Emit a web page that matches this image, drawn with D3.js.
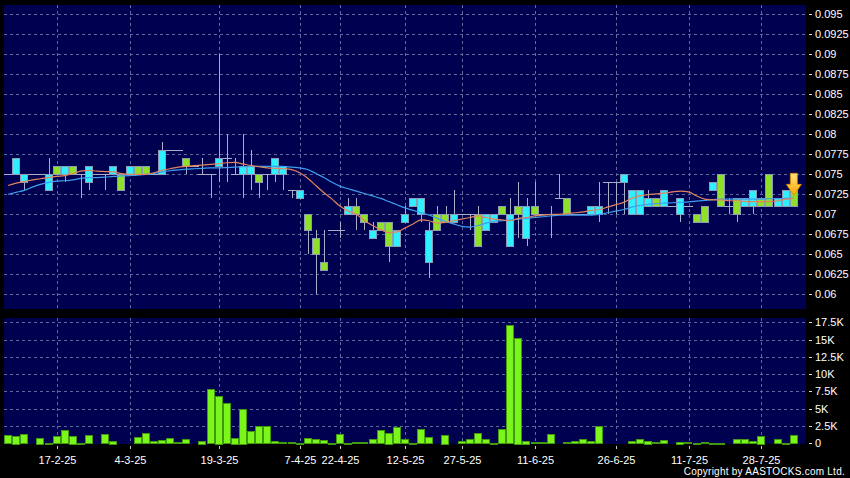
<!DOCTYPE html>
<html><head><meta charset="utf-8">
<script src="https://cdn.jsdelivr.net/npm/d3@7"></script>
<style>html,body{margin:0;padding:0;background:#000;}svg{display:block;}</style>
</head><body>
<svg id="c" width="850" height="478"></svg>
<script>
// ---- data (prices in HKD, volumes in thousands) ----
const openP  = [75,75,74,75,75,73,76,75,76,75,74,75,75,75,75,75,76,76,75,75,78,78,77,76,75,75,76,77,75,75,75,75,75,75,75,73,72,70,67,64,68,68,70,71,70,67,69,69,66,69,71,70,64,70,70,69,70,70,70,68,69,71,66,71,67,71,70,70,72,72,70,70,70,70,74,74,74,70,70,71,72,71,71,70,71,70,71,73,75,71,72,71,71,72,75,71,71,73].map(v=>v/1000);
const highP  = [75,77,75,75,75,77,76,76,76,75,76,75,75,76,75,76,76,76,75,79,78,78,77,76,77,75,90,80,77,80,78,75,75,77,76,73,73,70,68,68,68,69,72,72,70,69,69,69,68,71,72,72,69,71,71,73,70,70,71,70,70,71,72,74,72,74,70,71,75,72,70,70,71,74,74,74,75,73,73,73,72,73,71,72,71,70,71,74,75,72,72,72,73,72,75,72,73,73].map(v=>v/1000);
const lowP   = [75,75,73,75,75,73,75,74,75,72,73,75,73,75,73,75,75,75,75,75,78,78,75,76,75,72,74,74,75,72,73,72,73,74,73,72,72,65,60,63,68,67,70,68,68,67,68,64,66,69,71,69,62,68,69,69,70,68,66,68,69,70,66,67,66,70,70,67,72,70,70,70,70,69,70,70,70,70,70,71,71,71,71,69,71,69,69,73,71,70,69,71,70,71,71,71,71,71].map(v=>v/1000);
const closeP = [75,77,75,75,75,75,75,76,75,75,76,75,75,76,73,76,75,75,75,78,78,78,76,76,75,75,77,77,75,76,76,74,75,77,76,73,73,68,65,63,68,68,71,70,69,68,68,66,68,70,72,72,68,68,69,70,70,70,66,70,70,70,70,70,71,70,70,70,72,70,70,70,71,71,74,74,75,73,73,72,71,73,71,72,71,69,69,74,71,71,70,72,73,71,71,72,73,71].map(v=>v/1000);
const volumeK = [1.2,1.1,1.3,0,0.8,0.05,1.05,1.9,1.1,0.1,1.15,0,1.35,0.4,0,0,0.85,1.5,0.3,0.5,0.7,0.2,0.6,0,0.4,7.85,6.9,5.8,0.8,5.0,1.8,2.5,2.45,0.3,0.2,0.2,0.05,0.75,0.6,0.5,0.05,1.35,0.1,0.2,0.2,0.6,1.9,1.55,2.35,0.6,0.05,2.05,0.85,0,1.25,0,0.3,0.6,1.5,0.55,0.05,2.05,17.1,15.3,0.4,0.2,0.2,1.35,0,0.2,0.3,0.55,0.3,2.45,0,0,0,0.35,0.6,0.4,0.2,0.5,0,0.25,0.15,0.05,0.2,0.1,0.05,0,0.6,0.6,0.35,1.1,0,0.6,0.05,1.2];
const maShort = [73.6,73.9,74.1,74.3,74.45,74.6,74.75,74.85,75.1,75.4,75.5,75.4,75.35,75.3,75.1,75.0,75.0,75.0,75.2,75.5,75.7,75.9,76.0,76.1,76.15,76.25,76.35,76.45,76.5,76.3,76.1,75.95,75.8,75.75,75.7,75.6,75.2,74.5,73.6,72.7,71.9,71.0,70.4,70.0,69.2,68.6,68.1,67.7,67.8,68.3,68.8,69.3,69.2,68.9,69.0,69.2,69.4,69.6,69.8,69.6,69.4,69.3,69.2,69.5,69.6,69.8,69.9,70.0,70.0,70.1,70.2,70.3,70.5,70.6,70.9,71.2,71.5,72.0,72.3,72.45,72.55,72.65,72.8,72.9,72.8,72.3,71.9,71.8,71.8,71.7,71.7,71.6,71.6,71.6,71.6,71.7,71.9,72.0].map(v=>v/1000);
const maLong = [72.5,72.75,73.0,73.4,73.75,74.0,74.15,74.2,74.3,74.5,74.6,74.6,74.65,74.75,74.8,74.85,74.9,75.0,75.1,75.3,75.45,75.55,75.65,75.7,75.75,75.8,75.8,75.85,75.9,75.95,76.0,76.0,76.0,76.0,76.0,75.9,75.8,75.6,75.1,74.6,74.0,73.5,73.2,72.9,72.6,72.3,72.0,71.6,71.2,70.8,70.5,70.2,69.9,69.5,69.1,68.8,68.5,68.4,68.6,68.9,69.1,69.2,69.3,69.4,69.5,69.6,69.7,69.8,69.9,69.9,69.9,69.9,69.9,70.0,70.2,70.4,70.6,70.9,71.1,71.25,71.35,71.4,71.45,71.5,71.55,71.65,71.75,71.85,71.9,71.9,71.9,71.9,71.9,71.9,71.95,71.95,72.0,72.0].map(v=>v/1000);
const dateTickIndex = [6,15,26,36,41,49,56,65,75,84,93];
const dateTickLabels = ["17-2-25","4-3-25","19-3-25","7-4-25","22-4-25","12-5-25","27-5-25","11-6-25","26-6-25","11-7-25","28-7-25"];
const priceTicks = [0.06,0.0625,0.065,0.0675,0.07,0.0725,0.075,0.0775,0.08,0.0825,0.085,0.0875,0.09,0.0925,0.095];
const priceTickLabels = ["0.06","0.0625","0.065","0.0675","0.07","0.0725","0.075","0.0775","0.08","0.0825","0.085","0.0875","0.09","0.0925","0.095"];
const volTicks = [0,2.5,5,7.5,10,12.5,15,17.5];
const volTickLabels = ["0","2.5K","5K","7.5K","10K","12.5K","15K","17.5K"];
const copyright = "Copyright by AASTOCKS.com Ltd.";

// ---- layout ----
const svg = d3.select("#c");
const L = 4, R = 806;
const pTop = 5, pBot = 309, vTop = 318, vBot = 444;
const n = closeP.length;
const x = d3.scaleBand().domain(d3.range(n + 1)).range([L, R]).paddingInner(0).paddingOuter(0);
const bw = x.bandwidth();
const cx = i => x(i) + bw / 2;
const y = d3.scaleLinear().domain([0.06, 0.095]).range([294.3, 14.4]);
const yv = d3.scaleLinear().domain([0, 17.5]).range([443.3, 322.3]);

const BG = "#000050", GRID = "#5d6b9c";
svg.append("rect").attr("width", 850).attr("height", 478).attr("fill", "#000");
svg.append("rect").attr("x", L).attr("y", pTop).attr("width", R - L).attr("height", pBot - pTop).attr("fill", BG);
svg.append("rect").attr("x", L).attr("y", vTop).attr("width", R - L).attr("height", vBot - vTop).attr("fill", BG);

const grid = svg.append("g").attr("stroke", GRID).attr("stroke-width", 1).attr("stroke-dasharray", "3,3").attr("shape-rendering", "crispEdges");
priceTicks.forEach(t => grid.append("line").attr("x1", L).attr("x2", R).attr("y1", Math.round(y(t)) + 0.5).attr("y2", Math.round(y(t)) + 0.5));
volTicks.slice(1).forEach(t => grid.append("line").attr("x1", L).attr("x2", R).attr("y1", Math.round(yv(t)) + 0.5).attr("y2", Math.round(yv(t)) + 0.5));
dateTickIndex.forEach(i => {
  const xx = Math.round(cx(i)) + 0.5;
  grid.append("line").attr("x1", xx).attr("x2", xx).attr("y1", pTop).attr("y2", pBot);
  grid.append("line").attr("x1", xx).attr("x2", xx).attr("y1", vTop).attr("y2", vBot);
});

// ---- candles ----
const UP = "#2ef0ff", DOWN = "#8ee02a", EDGE = "#8d9bb5";
const cg = svg.append("g").attr("shape-rendering", "crispEdges");
d3.range(n).forEach(i => {
  const o = openP[i], c = closeP[i], h = highP[i], l = lowP[i];
  const xc = Math.round(cx(i)) + 0.5;
  if (h > l) cg.append("line").attr("x1", xc).attr("x2", xc).attr("y1", y(h)).attr("y2", y(l)).attr("stroke", "#a7b0c8");
  const x0 = Math.round(x(i)) + 0.5;
  if (o === c) {
    cg.append("line").attr("x1", x0 - 1).attr("x2", x0 + bw).attr("y1", Math.round(y(o)) + 0.5).attr("y2", Math.round(y(o)) + 0.5).attr("stroke", "#a7b0c8");
  } else {
    const top = y(Math.max(o, c)), bot = y(Math.min(o, c));
    cg.append("rect").attr("x", x0).attr("y", Math.round(top) + 0.5).attr("width", Math.round(bw) - 1).attr("height", Math.round(bot - top))
      .attr("fill", c > o ? UP : DOWN).attr("stroke", EDGE);
  }
});

// ---- moving averages ----
const line = d3.line().x((d, i) => cx(i)).y(d => y(d)).curve(d3.curveMonotoneX);
svg.append("path").datum(maLong).attr("d", line).attr("fill", "none").attr("stroke", "#3d9ef0").attr("stroke-width", 1.2);
svg.append("path").datum(maShort).attr("d", line).attr("fill", "none").attr("stroke", "#e2845e").attr("stroke-width", 1.2);

// ---- arrow on last candle ----
const li = n - 1, ax = cx(li), ay = y(highP[li]) + 5;
const defs = svg.append("defs");
const gr = defs.append("linearGradient").attr("id", "ag").attr("x1", 0).attr("y1", 0).attr("x2", 0).attr("y2", 1);
gr.append("stop").attr("offset", "0%").attr("stop-color", "#ffe27a");
gr.append("stop").attr("offset", "100%").attr("stop-color", "#ffa800");
svg.append("path").attr("d", `M${ax-3.5},${ay-22} L${ax+3.5},${ay-22} L${ax+3.5},${ay-11} L${ax+7.5},${ay-11} L${ax},${ay} L${ax-7.5},${ay-11} L${ax-3.5},${ay-11} Z`)
  .attr("fill", "url(#ag)").attr("stroke", "#d98a00").attr("stroke-width", 0.8);

// ---- volume ----
const vg = svg.append("g").attr("shape-rendering", "crispEdges");
d3.range(n).forEach(i => {
  if (volumeK[i] <= 0) return;
  const top = yv(volumeK[i]);
  vg.append("rect").attr("x", Math.round(x(i)) + 0.5).attr("y", Math.round(top) + 0.5).attr("width", Math.round(bw) - 1)
    .attr("height", Math.max(0.5, Math.round(yv(0) - top))).attr("fill", "#7cf51a").attr("stroke", "#3f9a10");
});

// ---- axes text ----
const FONT = "'Liberation Sans', Arial, sans-serif";
const ax1 = svg.append("g").attr("font-family", FONT).attr("font-size", 11).attr("fill", "#fff");
priceTicks.forEach((t, k) => {
  const yy = Math.round(y(t)) + 0.5;
  svg.append("line").attr("x1", 809).attr("x2", 812).attr("y1", yy).attr("y2", yy).attr("stroke", "#ddd");
  ax1.append("text").attr("x", 815).attr("y", yy).attr("dy", "0.36em").text(priceTickLabels[k]);
});
volTicks.forEach((t, k) => {
  const yy = Math.round(yv(t)) + 0.5;
  svg.append("line").attr("x1", 809).attr("x2", 812).attr("y1", yy).attr("y2", yy).attr("stroke", "#ddd");
  ax1.append("text").attr("x", 815).attr("y", yy).attr("dy", "0.36em").text(volTickLabels[k]);
});
dateTickIndex.forEach((i, k) => {
  const xx = Math.round(cx(i)) + 0.5;
  svg.append("line").attr("x1", xx).attr("x2", xx).attr("y1", 446).attr("y2", 449).attr("stroke", "#ccc");
  ax1.append("text").attr("x", xx).attr("y", 464).attr("text-anchor", "middle").text(dateTickLabels[k]);
});
svg.append("text").attr("x", 845).attr("y", 475).attr("text-anchor", "end").attr("font-family", FONT)
  .attr("font-size", 10).attr("letter-spacing", 0.25).attr("fill", "#fff").text(copyright);
</script>
</body></html>
